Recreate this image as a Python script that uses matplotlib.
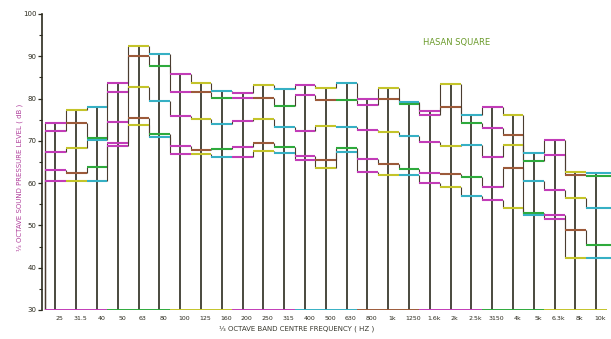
import numpy as np
import matplotlib
matplotlib.use("Agg")
from matplotlib import pyplot as plt

# 1/3 octave band labels
bands = ['25', '31.5', '40', '50', '63', '80', '100', '125', '160', '200', '250', '315',
         '400', '500', '630', '800', '1k', '1250', '1.6k', '2k', '2.5k', '3150', '4k',
         '5k', '6.3k', '8k', '10k']

spec1 = [74.2, 77.3, 78.1, 83.6, 92.5, 90.6, 85.9, 83.8, 81.8, 81.2, 83.2, 82.2, 83.2, 82.4,
         83.6, 79.9, 82.6, 79.2, 77.1, 83.5, 76.1, 78.1, 76.1, 67.2, 70.2, 62.7, 62.3]
spec2 = [72.4, 74.2, 70.6, 81.6, 90.0, 87.6, 81.6, 81.6, 80.2, 80.2, 80.2, 78.3, 80.9, 79.7,
         79.7, 78.5, 79.9, 78.6, 76.1, 78.1, 74.2, 73.0, 71.4, 65.3, 66.7, 61.9, 61.7]
spec3 = [67.3, 68.2, 70.2, 74.5, 82.8, 79.5, 75.8, 75.2, 74.1, 74.6, 75.2, 73.3, 72.3, 73.5,
         73.2, 72.6, 72.2, 71.2, 69.8, 68.8, 69.0, 66.3, 69.0, 60.6, 58.4, 56.4, 54.1]
spec4 = [63.1, 62.3, 63.9, 69.6, 75.3, 71.6, 68.8, 67.8, 68.1, 68.5, 69.6, 68.5, 66.4, 65.5,
         68.4, 65.7, 64.5, 63.4, 62.3, 62.1, 61.5, 59.2, 63.6, 53.0, 52.5, 48.9, 45.4]
spec5 = [60.4, 60.4, 60.4, 68.8, 73.8, 70.9, 66.9, 66.9, 66.2, 66.2, 67.6, 67.2, 65.5, 63.5,
         67.4, 62.7, 61.9, 61.9, 60.0, 59.0, 57.0, 56.0, 54.2, 52.5, 51.5, 42.4, 42.4]

spectra = [spec1, spec2, spec3, spec4, spec5]

# scan colours bleed along each line
pal = ['#c23cb8', '#2eaa3c', '#c4c42a', '#c23cb8', '#36b0c4', '#9c5a3a']

W, H = 611, 339
fig = plt.figure(figsize=(W / 100, H / 100), dpi=100)
fig.patch.set_facecolor('white')
ax = fig.add_axes([42 / W, 29 / H, (W - 42) / W, 296 / H])

n = len(bands)
x0 = -3 / 20.8
x1 = (W - 45) / 20.8
ax.set_xlim(x0, x1)
ax.set_ylim(30, 100)

# centre lines up to the highest level
tops = np.max(np.array(spectra), axis=0)
for k in range(n):
    ax.vlines(k + 0.5, 30, tops[k], color='#2b2a1e', lw=1.2, zorder=2)

for i, s in enumerate(spectra):
    for k in range(n):
        right = k + 1 if k < n - 1 else x1
        c = pal[(2 * k + 3 * i) % len(pal)]
        ax.hlines(s[k], k, right, color=c, lw=1.5, zorder=3)
        prev = 30 if k == 0 else s[k - 1]
        ax.vlines(k, min(prev, s[k]), max(prev, s[k]), color='#4a3c30', lw=0.8, zorder=2)

# baseline drawn in broken colours
for k in range(n):
    ax.hlines(30, k, k + 1, color=pal[(k // 3) % len(pal)], lw=1.4, zorder=4)

ax.spines['top'].set_visible(False)
ax.spines['right'].set_visible(False)
ax.spines['bottom'].set_visible(False)
ax.spines['left'].set_color('#2b2a1e')
ax.spines['left'].set_linewidth(1.2)

ax.set_yticks(np.arange(30, 101, 10))
ax.set_yticks(np.arange(35, 100, 10), minor=True)
ax.tick_params(axis='y', which='major', length=3, width=0.9, labelsize=5, pad=1,
               colors='#2b2a1e')
ax.tick_params(axis='y', which='minor', length=2, width=0.8, colors='#2b2a1e')
ax.set_xticks(np.arange(n) + 0.7)
ax.set_xticklabels(bands)
ax.tick_params(axis='x', length=0, labelsize=4.5, pad=4, colors='#2b2a1e')

fig.text(20 / W, 1 - 177 / H, '⅓ OCTAVE SOUND PRESSURE LEVEL ( dB )', rotation=90,
         ha='center', va='center', fontsize=5, color='#b0409c')
fig.text(297 / W, 1 - 329 / H, '⅓ OCTAVE BAND CENTRE FREQUENCY ( HZ )',
         ha='center', va='center', fontsize=5, color='#3a3a30')
fig.text(457 / W, 1 - 43 / H, 'HASAN SQUARE', ha='center', va='center',
         fontsize=6, color='#6a9a2a')

fig.savefig('out.png', dpi=100, facecolor='white')
